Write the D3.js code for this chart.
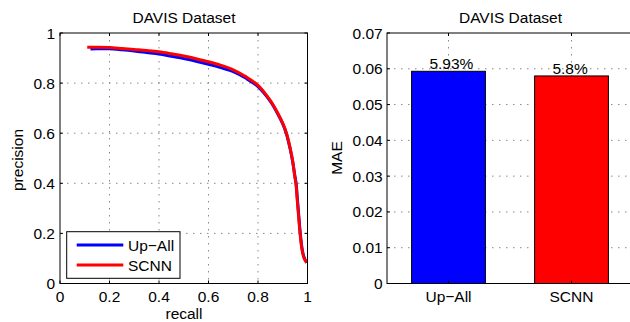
<!DOCTYPE html>
<html>
<head>
<meta charset="utf-8">
<script src="https://cdn.jsdelivr.net/npm/d3@7"></script>
<style>
  body { margin: 0; background: #fff; }
  svg text { font-family: "Liberation Sans", Arial, Helvetica, sans-serif; font-size: 15.5px; fill: #000; }
</style>
</head>
<body>
<svg id="chart" width="630" height="322"></svg>
<script>
// precision-recall curves, [recall, precision]
const upAllPR = [[0.123,0.936],[0.15,0.937],[0.2,0.937],[0.25,0.933],[0.3,0.928],[0.35,0.922],[0.4,0.916],[0.45,0.907],[0.5,0.898],[0.55,0.887],[0.6,0.875],[0.65,0.862],[0.7,0.846],[0.75,0.82],[0.8,0.786],[0.85,0.727],[0.88,0.677],[0.9,0.637],[0.915,0.597],[0.93,0.537],[0.94,0.487],[0.949,0.43],[0.954,0.4],[0.959,0.34],[0.964,0.28],[0.969,0.22],[0.973,0.18],[0.978,0.14],[0.983,0.115],[0.989,0.097],[0.997,0.083]];
const scnnPR = [[0.11,0.943],[0.15,0.943],[0.2,0.942],[0.25,0.938],[0.3,0.934],[0.35,0.93],[0.4,0.925],[0.45,0.917],[0.5,0.908],[0.55,0.897],[0.6,0.885],[0.65,0.871],[0.7,0.853],[0.75,0.826],[0.8,0.791],[0.85,0.73],[0.88,0.68],[0.9,0.64],[0.915,0.6],[0.93,0.54],[0.94,0.49],[0.948,0.43],[0.953,0.4],[0.958,0.34],[0.963,0.28],[0.968,0.22],[0.972,0.18],[0.977,0.14],[0.982,0.115],[0.988,0.097],[0.997,0.083]];
const methods = ['Up\u2212All', 'SCNN'];
const maeValues = [0.0593, 0.058];
const maeLabels = ['5.93%', '5.8%'];
const prTicks = [0, 0.2, 0.4, 0.6, 0.8, 1];
const maeTicks = [0, 0.01, 0.02, 0.03, 0.04, 0.05, 0.06, 0.07];
const colors = ['#0000ff', '#ff0000'];

const svg = d3.select('#chart');
const plotTop = 33, plotBottom = 283.5;

// dotted matlab grid
function drawGrid(g, x, y, xt, yt) {
    const [x0, x1] = x.range();
    g.selectAll('.vgrid').data(xt.filter(d => x(d) > x0 + 1 && x(d) < x1 - 1)).enter()
        .append('line').attr('x1', d => x(d)).attr('x2', d => x(d))
        .attr('y1', plotTop).attr('y2', plotBottom)
        .attr('stroke', '#888').attr('stroke-dasharray', '1.5,5.5');
    g.selectAll('.hgrid').data(yt.filter(d => y(d) > plotTop + 1 && y(d) < plotBottom - 1)).enter()
        .append('line').attr('y1', d => y(d)).attr('y2', d => y(d))
        .attr('x1', x0).attr('x2', x1)
        .attr('stroke', '#888').attr('stroke-dasharray', '1.5,5.5');
}

// box with inward ticks on all sides
function drawFrame(g, x, y, xt, yt) {
    const [x0, x1] = x.range();
    const tl = 3;
    xt.forEach(d => {
        g.append('line').attr('x1', x(d)).attr('x2', x(d)).attr('y1', plotBottom).attr('y2', plotBottom - tl).attr('stroke', '#000');
        g.append('line').attr('x1', x(d)).attr('x2', x(d)).attr('y1', plotTop).attr('y2', plotTop + tl).attr('stroke', '#000');
    });
    yt.forEach(d => {
        g.append('line').attr('x1', x0).attr('x2', x0 + tl).attr('y1', y(d)).attr('y2', y(d)).attr('stroke', '#000');
        g.append('line').attr('x1', x1).attr('x2', x1 - tl).attr('y1', y(d)).attr('y2', y(d)).attr('stroke', '#000');
    });
    g.append('rect').attr('x', x0).attr('y', plotTop).attr('width', x1 - x0).attr('height', plotBottom - plotTop)
        .attr('fill', 'none').attr('stroke', '#000');
}

// ---- left: precision-recall ----
const xPR = d3.scaleLinear().domain([0, 1]).range([60, 307.5]);
const yPR = d3.scaleLinear().domain([0, 1]).range([plotBottom, plotTop]);
const left = svg.append('g');
drawGrid(left, xPR, yPR, prTicks, prTicks);

const prLine = d3.line().x(d => xPR(d[0])).y(d => yPR(d[1])).curve(d3.curveCatmullRom);
[upAllPR, scnnPR].forEach((s, i) => {
    left.append('path').datum(s).attr('d', prLine)
        .attr('fill', 'none').attr('stroke', colors[i]).attr('stroke-width', 3).attr('stroke-linejoin', 'round');
});
drawFrame(left, xPR, yPR, prTicks, prTicks);

left.selectAll('.xl').data(prTicks).enter().append('text')
    .attr('x', d => xPR(d)).attr('y', 301.5).attr('text-anchor', 'middle').text(d => d3.format('~g')(d));
left.selectAll('.yl').data(prTicks).enter().append('text')
    .attr('x', 55).attr('y', d => yPR(d) + 5.5).attr('text-anchor', 'end').text(d => d3.format('~g')(d));
left.append('text').attr('x', 184).attr('y', 22.5).attr('text-anchor', 'middle').text('DAVIS Dataset');
left.append('text').attr('x', 184).attr('y', 319).attr('text-anchor', 'middle').text('recall');
left.append('text').attr('transform', 'translate(23,160) rotate(-90)').attr('text-anchor', 'middle').text('precision');

// legend
left.append('rect').attr('x', 66.7).attr('y', 231.7).attr('width', 113.3).attr('height', 46.6)
    .attr('fill', '#fff').attr('stroke', '#000');
methods.forEach((m, i) => {
    left.append('line').attr('x1', 76.7).attr('x2', 123.3).attr('y1', 245 + i * 20).attr('y2', 245 + i * 20)
        .attr('stroke', colors[i]).attr('stroke-width', 3);
    left.append('text').attr('x', 128).attr('y', 250.5 + i * 20).text(m);
});

// ---- right: MAE bars ----
const xB = d3.scaleLinear().domain([0.5, 2.5]).range([387, 633]);
const yB = d3.scaleLinear().domain([0, 0.07]).range([plotBottom, plotTop]);
const right = svg.append('g');
const barPos = [1, 2];
drawGrid(right, xB, yB, barPos, maeTicks);

right.selectAll('.bar').data(maeValues).enter().append('rect')
    .attr('x', (d, i) => xB(barPos[i] - 0.3)).attr('width', xB(1.3) - xB(0.7))
    .attr('y', d => yB(d)).attr('height', d => yB(0) - yB(d))
    .attr('fill', (d, i) => colors[i]).attr('stroke', '#000');
drawFrame(right, xB, yB, barPos, maeTicks);

right.selectAll('.bl').data(maeValues).enter().append('text')
    .attr('x', (d, i) => xB(barPos[i] - 0.155)).attr('y', d => yB(d) - 2).text((d, i) => maeLabels[i]);
right.selectAll('.xl').data(methods).enter().append('text')
    .attr('x', (d, i) => xB(barPos[i])).attr('y', 301.5).attr('text-anchor', 'middle').text(d => d);
right.selectAll('.yl').data(maeTicks).enter().append('text')
    .attr('x', 382.7).attr('y', d => yB(d) + 5.5).attr('text-anchor', 'end').text(d => d3.format('~g')(d));
right.append('text').attr('x', 510.5).attr('y', 22.5).attr('text-anchor', 'middle').text('DAVIS Dataset');
right.append('text').attr('transform', 'translate(341.5,158) rotate(-90)').attr('text-anchor', 'middle').text('MAE');
</script>
</body>
</html>
